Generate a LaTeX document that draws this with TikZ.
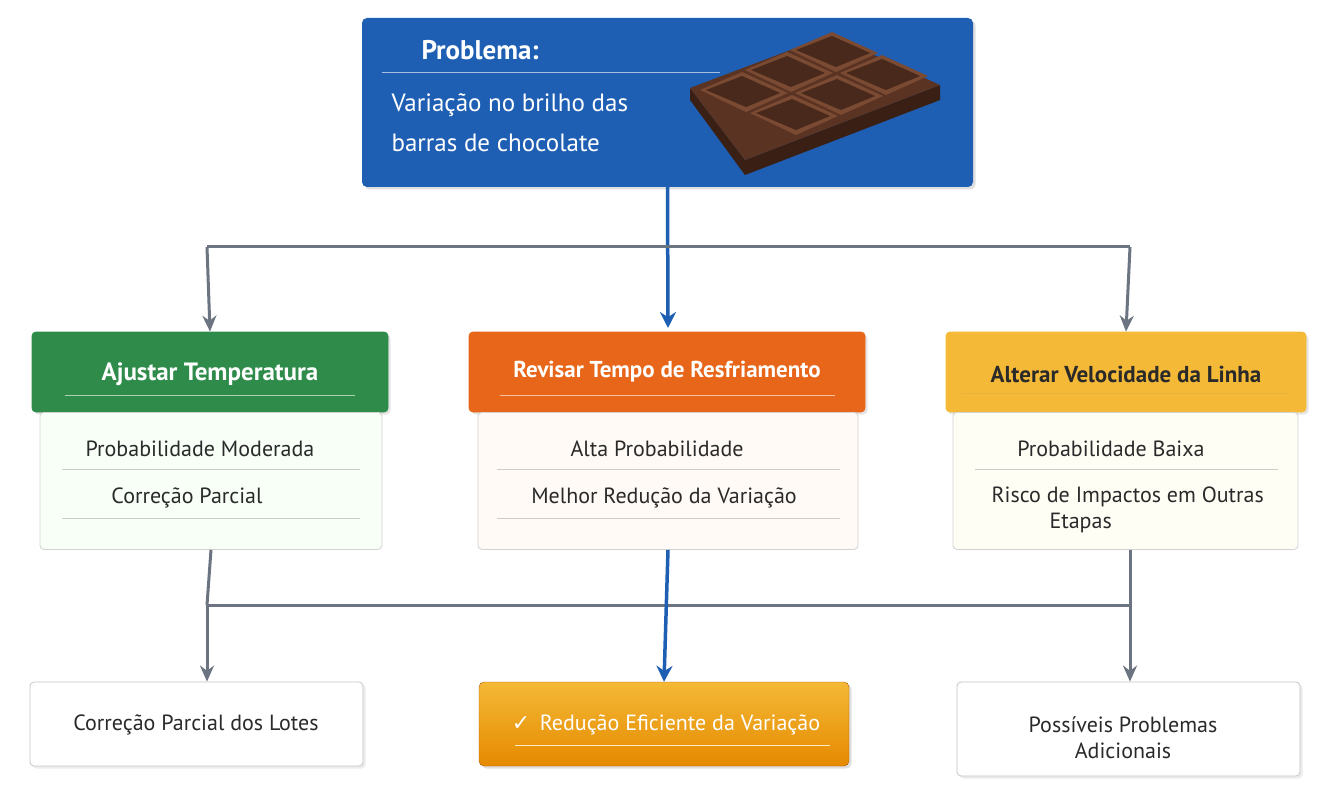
\documentclass[tikz,border=0pt]{standalone}
\usepackage{fontspec}
\setmainfont{PT Sans}
\newfontfamily\sym{DejaVu Sans}
\usetikzlibrary{arrows.meta,shadows}
\definecolor{blueA}{HTML}{1E5FB4}
\definecolor{grayL}{HTML}{6B7480}
\definecolor{greenH}{HTML}{2E8B4A}
\definecolor{orangeH}{HTML}{E8661A}
\definecolor{yellowH}{HTML}{F4B936}
\definecolor{txt}{HTML}{2A2A2A}
\definecolor{choc}{HTML}{5A3322}
\definecolor{chocL}{HTML}{7A4A33}
\definecolor{chocD}{HTML}{3A1F14}
\tikzset{
 box/.style={draw=#1,rounded corners=4pt,line width=0.8pt},
 con/.style={draw=grayL,line width=3pt,-{Stealth[length=16pt,width=14pt]}},
 conb/.style={draw=blueA,line width=3.5pt,-{Stealth[length=16pt,width=16pt]}},
 line/.style={draw=grayL,line width=3pt},
 t/.style={text=txt,font=\fontsize{22}{26}\selectfont,align=center},
 h/.style={text=white,font=\bfseries\fontsize{25}{29}\selectfont},
 sep/.style={draw=gray!40,line width=0.8pt}
}
\begin{document}
\begin{tikzpicture}[x=1pt,y=-1pt]
\useasboundingbox[fill=white] (0,0) rectangle (1330,810);
% top box
\node[fill=blueA,rounded corners=5pt,minimum width=611pt,minimum height=169pt,drop shadow={opacity=0.25}] (top) at (667.5,102.5) {};
\node[h,font=\bfseries\fontsize{27}{30}\selectfont,anchor=west] (pb) at (418,50) {Problema:};
\draw[white!60!blueA,line width=1pt] (382,73) -- (720,73);
\node[text=white,font=\fontsize{25}{40}\selectfont,anchor=north west,align=left] (vt) at (388,90) {Variação no brilho das\\barras de chocolate};
% chocolate bar
\fill[chocD] (690,100) -- (745,175) -- (940,100) -- (940,85) -- (745,160) -- (690,88) -- cycle;
\fill[choc] (690,88) -- (830,35) -- (940,85) -- (745,160) -- cycle;
\foreach \a/\b in {0/0,1/0,0/1,1/1,2/0,2/1}{
  \begin{scope}[shift={(700+\a*45+\b*50,90-\a*20+\b*23)}]
   \fill[chocL] (0,0) -- (42,-18) -- (88,3) -- (46,22) -- cycle;
   \fill[choc!80!black] (6,0) -- (42,-14) -- (80,3) -- (46,17) -- cycle;
  \end{scope}}
% arrows top
\draw[conb] (top.south) -- (668,328);
\draw[line] (207,247) -- (1130,247);
\coordinate (l1) at (207,247); \coordinate (r1) at (1130,247);
% headers
\node[box=greenH,fill=greenH,minimum width=356pt,minimum height=80pt,drop shadow={opacity=0.2}] (h1) at (210,372) {};
\node[box=orangeH,fill=orangeH,minimum width=396pt,minimum height=80pt,drop shadow={opacity=0.2}] (h2) at (667,372) {};
\node[box=yellowH,fill=yellowH,minimum width=360pt,minimum height=80pt,drop shadow={opacity=0.2}] (h3) at (1126,372) {};
\draw[con] (l1) -- (h1.north);
\draw[con] (r1) -- (h3.north);
\node[h] at (210,374) {Ajustar Temperatura};
\node[h,font=\bfseries\fontsize{23}{27}\selectfont] at (667,372) {Revisar Tempo de Resfriamento};
\node[h,text=txt,font=\bfseries\fontsize{23}{27}\selectfont] at (1126,374) {Alterar Velocidade da Linha};
\draw[white!60!greenH,line width=1pt] (65,395)--(355,395);
\draw[white!60!orangeH,line width=1pt] (500,395)--(835,395);
\draw[white!50!black!10!yellowH,line width=1pt] (962,393)--(1290,393);
% bodies
\node[box=gray!35,fill=green!3,minimum width=342pt,minimum height=137pt,anchor=north] (b1) at (211,412) {};
\node[box=gray!35,fill=orange!4,minimum width=380pt,minimum height=137pt,anchor=north] (b2) at (668,412) {};
\node[box=gray!35,fill=yellow!4,minimum width=345pt,minimum height=137pt,anchor=north] (b3) at (1125.5,412) {};
\node[t] at (200,449) {Probabilidade Moderada};
\draw[sep] (62,469)--(360,469);
\node[t] at (187,498) {Correção Parcial};
\draw[sep] (62,518)--(360,518);
\node[t] at (657,449) {Alta Probabilidade};
\draw[sep] (497,469)--(840,469);
\node[t] at (664,498) {Melhor Redução da Variação};
\draw[sep] (497,518)--(840,518);
\node[t] at (1111,449) {Probabilidade Baixa};
\draw[sep] (975,469)--(1278,469);
\node[t,align=left,anchor=north west] at (988,483) {Risco de Impactos em Outras\\\hspace*{58pt}Etapas};
% bottom boxes
\node[box=gray!45,fill=white,minimum width=333pt,minimum height=84pt,drop shadow={opacity=0.15}] (c1) at (196.5,724) {};
\node[rounded corners=5pt,draw=orange!70!black,top color=yellowH,bottom color=orange!80!yellow!90!black,minimum width=370pt,minimum height=84pt,drop shadow={opacity=0.25}] (c2) at (664,724) {};
\node[box=gray!45,fill=white,minimum width=343pt,minimum height=94pt,drop shadow={opacity=0.15}] (c3) at (1128.5,729) {};
\node[t] at (196,725) {Correção Parcial dos Lotes};
\node[h,font=\fontsize{22}{26}\selectfont] at (666,725) {{\sym\bfseries ✓}\, Redução Eficiente da Variação};
\draw[white!70!yellowH,line width=1pt] (515,745)--(830,745);
\node[t] at (1123,738) {Possíveis Problemas\\Adicionais};
% lower connectors
\draw[line] (b1.south) -- (207,605);
\draw[line] (207,605) -- (1130,605);
\draw[con] (207,605) -- (c1.north -| 207,0);
\draw[line] (b3.south -| 1130,0) -- (1130,605);
\draw[con] (1130,605) -- (c3.north -| 1130,0);
\draw[conb] (b2.south) -- (c2.north);
\end{tikzpicture}
\end{document}
